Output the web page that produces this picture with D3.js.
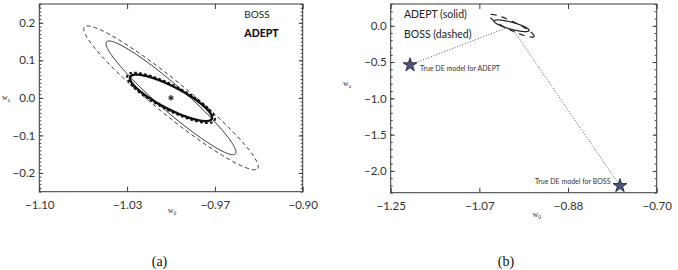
<!DOCTYPE html>
<html><head><meta charset="utf-8">
<script src="https://cdn.jsdelivr.net/npm/d3@7"></script>
<style>
body{margin:0;background:#fff;}
svg{display:block;}
.tick text{font-family:Lato,"Open Sans",sans-serif;fill:#333;}
</style></head>
<body><svg id="c" width="678" height="270"></svg>
<script>
// ---------- DATA ----------
// Panel (a): Fisher ellipses around fiducial (w0, wa) = (-1, 0)
const centerA = [-1.0, 0.0];
const ellipseNamesA = ["BOSS dashed", "BOSS solid", "ADEPT dashed", "ADEPT solid"];
const ellipseMajorA = [[0.0658, -0.1886], [0.0489, -0.1493], [0.0330, -0.0602], [0.0309, -0.0561]];
const ellipseMinorA = [[0.0079, 0.0340], [0.0065, 0.0260], [0.0043, 0.0290], [0.0039, 0.0264]];
const xTicksA = [-1.10, -1.03333, -0.96667, -0.90];
const xTickLabelsA = ["\u22121.10", "\u22121.03", "\u22120.97", "\u22120.90"];
const yTicksA = [-0.2, -0.1, 0.0, 0.1, 0.2];
const yTickLabelsA = ["\u22120.2", "\u22120.1", "0.0", "0.1", "0.2"];
const legendA = ["BOSS", "ADEPT"];

// Panel (b)
const centerB = [-1.0, 0.0];
const ellipseNamesB = ["ADEPT (solid)", "BOSS (dashed)"];
const ellipseMajorB = [[0.0362, -0.0658], [0.0465, -0.148]];
const ellipseMinorB = [[0.0020, 0.0460], [0.0040, 0.0540]];
const starNamesB = ["True DE model for ADEPT", "True DE model for BOSS"];
const starW0B = [-1.21, -0.776];
const starWaB = [-0.54, -2.205];
const lineEndW0B = [-1.014, -0.9965];
const lineEndWaB = [-0.036, -0.059];
const xTicksB = [-1.25, -1.06667, -0.88333, -0.70];
const xTickLabelsB = ["\u22121.25", "\u22121.07", "\u22120.88", "\u22120.70"];
const yTicksB = [-2.0, -1.5, -1.0, -0.5, 0.0];
const yTickLabelsB = ["\u22122.0", "\u22121.5", "\u22121.0", "\u22120.5", "0.0"];
const legendB = ["ADEPT (solid)", "BOSS (dashed)"];

// ---------- DRAW ----------
const svg = d3.select("#c");
const AX = "#3a3a3a";
const FONT = "Lato, 'Open Sans', sans-serif";

function ellipsePts(c, maj, min) {
  return d3.range(0, 200).map(i => {
    const t = i / 200 * 2 * Math.PI;
    return [c[0] + Math.cos(t) * maj[0] + Math.sin(t) * min[0],
            c[1] + Math.cos(t) * maj[1] + Math.sin(t) * min[1]];
  });
}

function frame(x, y, xt, xl, yt, yl, yMinorStep) {
  const [x0, x1] = x.range(), [y0, y1] = y.range();
  const g = svg.append("g");
  g.append("g").attr("transform", `translate(0,${y0})`)
    .call(d3.axisBottom(x).tickValues(xt).tickFormat((d, i) => xl[i]).tickSize(-5).tickSizeOuter(0).tickPadding(9));
  g.append("g").attr("transform", `translate(0,${y1})`)
    .call(d3.axisTop(x).tickValues(xt).tickFormat("").tickSize(-5).tickSizeOuter(0));
  g.append("g").attr("transform", `translate(${x0},0)`)
    .call(d3.axisLeft(y).tickValues(yt).tickFormat((d, i) => yl[i]).tickSize(-4).tickSizeOuter(0).tickPadding(4));
  const yd = y.domain();
  const minor = d3.range(Math.round(yd[0] / yMinorStep), Math.round(yd[1] / yMinorStep) + 1).map(k => k * yMinorStep);
  g.append("g").attr("transform", `translate(${x0},0)`)
    .call(d3.axisLeft(y).tickValues(minor).tickFormat("").tickSize(-2).tickSizeOuter(0));
  g.append("g").attr("transform", `translate(${x1},0)`)
    .call(d3.axisRight(y).tickValues(yt).tickFormat("").tickSize(-4).tickSizeOuter(0));
  g.append("g").attr("transform", `translate(${x1},0)`)
    .call(d3.axisRight(y).tickValues(minor).tickFormat("").tickSize(-2).tickSizeOuter(0));
  g.selectAll(".domain").remove();
  g.selectAll(".tick line").attr("stroke", AX);
  g.selectAll(".tick text").style("font-size", "11.5px").attr("fill", "#333").style("font-family", FONT);
  g.append("rect").attr("x", x0).attr("y", y1).attr("width", x1 - x0).attr("height", y0 - y1)
    .attr("fill", "none").attr("stroke", AX).attr("stroke-width", 1);
  return g;
}

function axisTitle(xpos, ypos, main, sub) {
  const t = svg.append("text").attr("x", xpos).attr("y", ypos)
    .attr("font-family", "'Liberation Serif', 'Times New Roman', serif").attr("font-size", 8).attr("fill", "#333")
    .attr("text-anchor", "middle");
  t.append("tspan").text(main);
  t.append("tspan").attr("font-size", 5.5).attr("dy", 1.5).text(sub);
}

// ---------- Panel (a) ----------
const xA = d3.scaleLinear().domain([-1.1, -0.9]).range([39.3, 302.7]);
const yA = d3.scaleLinear().domain([-0.25, 0.25]).range([191.7, 4]);
frame(xA, yA, xTicksA, xTickLabelsA, yTicksA, yTickLabelsA, 0.01);
const lineA = d3.line().x(d => xA(d[0])).y(d => yA(d[1])).curve(d3.curveLinearClosed);
const stylesA = [
  {w: 1, dash: "4,3", c: "#333"},
  {w: 1, dash: null, c: "#333"},
  {w: 2.2, dash: "2.5,2.5", c: "#111"},
  {w: 2.4, dash: null, c: "#111"}
];
ellipseNamesA.forEach((n, i) => {
  svg.append("path").attr("d", lineA(ellipsePts(centerA, ellipseMajorA[i], ellipseMinorA[i])))
    .attr("fill", "none").attr("stroke", stylesA[i].c).attr("stroke-width", stylesA[i].w)
    .attr("stroke-dasharray", stylesA[i].dash);
});
svg.append("path").attr("transform", `translate(${xA(centerA[0])},${yA(centerA[1])})`)
  .attr("d", d3.symbol(d3.symbolAsterisk, 22)()).attr("stroke", "#222").attr("stroke-width", 1.2).attr("fill", "none");
svg.append("text").attr("x", 244.3).attr("y", 18).text(legendA[0])
  .attr("font-family", FONT).attr("font-size", 10).attr("fill", "#222");
svg.append("text").attr("x", 244.3).attr("y", 37.3).text(legendA[1])
  .attr("font-family", FONT).attr("font-size", 10.5).attr("font-weight", 900).attr("fill", "#111");
axisTitle(172, 213, "w", "0");
axisTitle(6, 100, "w", "a");

// ---------- Panel (b) ----------
const xB = d3.scaleLinear().domain([-1.25, -0.70]).range([390.7, 656.7]);
const yB = d3.scaleLinear().domain([-2.3, 0.3]).range([192.7, 4]);
frame(xB, yB, xTicksB, xTickLabelsB, yTicksB, yTickLabelsB, 0.1);
const lineB = d3.line().x(d => xB(d[0])).y(d => yB(d[1])).curve(d3.curveLinearClosed);
const stylesB = [{w: 1.2, dash: null}, {w: 1.2, dash: "6,5"}];
ellipseNamesB.forEach((n, i) => {
  svg.append("path").attr("d", lineB(ellipsePts(centerB, ellipseMajorB[i], ellipseMinorB[i])))
    .attr("fill", "none").attr("stroke", "#222").attr("stroke-width", stylesB[i].w)
    .attr("stroke-dasharray", stylesB[i].dash);
});
starNamesB.forEach((n, i) => {
  svg.append("line").attr("x1", xB(starW0B[i])).attr("y1", yB(starWaB[i]))
    .attr("x2", xB(lineEndW0B[i])).attr("y2", yB(lineEndWaB[i]))
    .attr("stroke", "#555").attr("stroke-width", 1).attr("stroke-dasharray", "1,1.8");
});
starNamesB.forEach((n, i) => {
  svg.append("path").attr("transform", `translate(${xB(starW0B[i])},${yB(starWaB[i])})`)
    .attr("d", d3.symbol(d3.symbolStar, 60)()).attr("fill", "#4a5577").attr("stroke", "#1d2233").attr("stroke-width", 0.8);
});
svg.append("text").attr("x", xB(starW0B[0]) + 10).attr("y", yB(starWaB[0]) + 6.5).text(starNamesB[0])
  .attr("font-family", FONT).attr("font-size", 7).attr("fill", "#333");
svg.append("text").attr("x", xB(starW0B[1]) - 9.5).attr("y", yB(starWaB[1]) - 1.5).text(starNamesB[1])
  .attr("font-family", FONT).attr("font-size", 7).attr("fill", "#333").attr("text-anchor", "end");
svg.append("text").attr("x", 404).attr("y", 17.8).text(legendB[0])
  .attr("font-family", FONT).attr("font-size", 10.5).attr("fill", "#222");
svg.append("text").attr("x", 404).attr("y", 38).text(legendB[1])
  .attr("font-family", FONT).attr("font-size", 10.5).attr("fill", "#222");
axisTitle(536.7, 217, "w", "0");
axisTitle(347, 86, "w", "a");

// captions
svg.append("text").attr("x", 159.5).attr("y", 266).attr("text-anchor", "middle").text("(a)")
  .attr("font-family", "'Liberation Serif', 'Times New Roman', serif").attr("font-size", 14).attr("fill", "#111");
svg.append("text").attr("x", 506).attr("y", 266).attr("text-anchor", "middle").text("(b)")
  .attr("font-family", "'Liberation Serif', 'Times New Roman', serif").attr("font-size", 14).attr("fill", "#111");
</script>
</body></html>
